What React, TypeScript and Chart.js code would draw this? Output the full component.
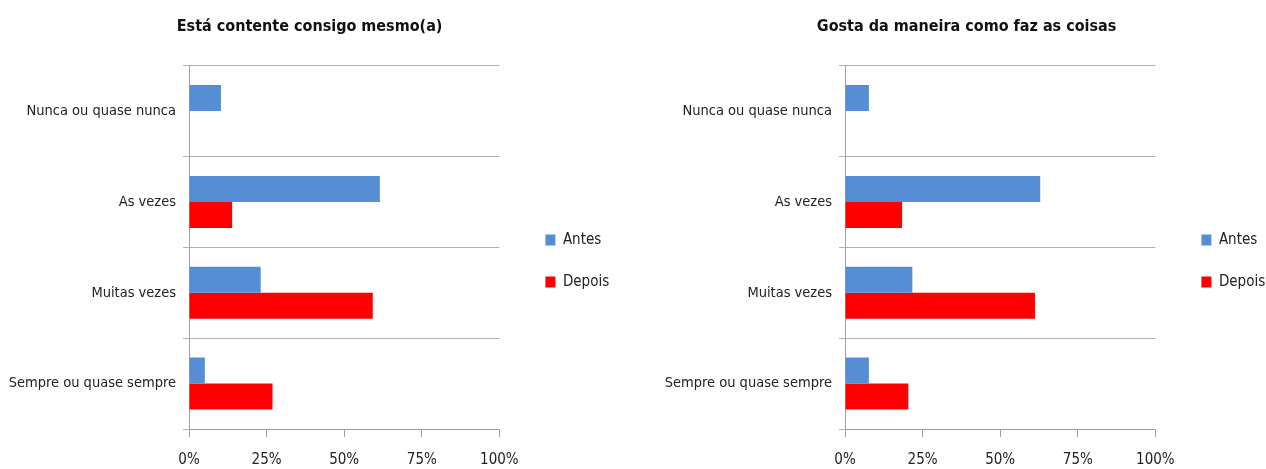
import React, { useEffect, useRef } from 'react';
import { Chart, registerables } from 'chart.js';

Chart.register(...registerables);

const categories = ['Nunca ou quase nunca', 'As vezes', 'Muitas vezes', 'Sempre ou quase sempre'];
const seriesNames = ['Antes', 'Depois'];
const xTicks = [0, 25, 50, 75, 100];

const leftTitle = 'Está contente consigo mesmo(a)';
const leftAntes = [10.3, 61.5, 23.1, 5.1];
const leftDepois = [0, 13.9, 59.2, 26.9];

const rightTitle = 'Gosta da maneira como faz as coisas';
const rightAntes = [7.7, 62.9, 21.7, 7.7];
const rightDepois = [0, 18.4, 61.2, 20.4];

const FONT = '"Liberation Sans Narrow", "Arial Narrow", "DejaVu Sans Condensed", sans-serif';
const TEXT = '#222222';

type PanelProps = {
  title: string;
  antes: number[];
  depois: number[];
  width: number;
  height: number;
  yAxisWidth: number;
  padRight: number;
};

function Panel({ title, antes, depois, width, height, yAxisWidth, padRight }: PanelProps) {
  const ref = useRef<HTMLCanvasElement | null>(null);
  useEffect(() => {
    if (!ref.current) return;
    const chart = new Chart(ref.current, {
      type: 'bar',
      data: {
        labels: categories,
        datasets: [
          { label: seriesNames[0], data: antes, backgroundColor: '#558ED5', borderWidth: 0 },
          { label: seriesNames[1], data: depois, backgroundColor: '#FF0000', borderWidth: 0 },
        ],
      },
      options: {
        indexAxis: 'y',
        responsive: false,
        animation: false,
        datasets: { bar: { categoryPercentage: 0.573, barPercentage: 1 } },
        layout: { padding: { left: 0, right: padRight, top: 0, bottom: 0 } },
        plugins: {
          title: {
            display: true,
            text: title,
            color: '#111111',
            font: { family: FONT, size: 16, weight: 'bold' },
            padding: { top: 17, bottom: 29.5 },
          },
          legend: {
            position: 'right',
            align: 'start',
            title: { display: true, text: '', font: { size: 10 }, padding: { top: 0, bottom: 193.5 } },
            labels: {
              boxWidth: 10,
              boxHeight: 11,
              padding: 27,
              color: TEXT,
              font: { family: FONT, size: 15 },
            },
          },
          tooltip: { enabled: false },
        },
        scales: {
          x: {
            type: 'linear',
            min: 0,
            max: 100,
            position: 'bottom',
            afterBuildTicks: (s: any) => {
              s.ticks = xTicks.map((v) => ({ value: v }));
            },
            afterFit: (s: any) => {
              s.height = 40;
            },
            ticks: {
              callback: (v: any) => v + '%',
              padding: 14,
              maxRotation: 0,
              color: TEXT,
              font: { family: FONT, size: 15 },
            },
            grid: { display: true, drawOnChartArea: false, drawTicks: true, tickLength: 8, color: '#A0A0A0' },
            border: { display: true, color: '#A0A0A0' },
          },
          y: {
            type: 'category',
            offset: true,
            afterFit: (s: any) => {
              s.width = yAxisWidth;
            },
            ticks: { padding: 7, color: TEXT, font: { family: FONT, size: 14.5 } },
            grid: { offset: true, color: '#B0B0B0', tickLength: 6, drawTicks: true },
            border: { display: true, color: '#A0A0A0' },
          },
          spacer: {
            type: 'linear',
            position: 'right',
            display: true,
            afterFit: (s: any) => {
              s.width = 19;
            },
            grid: { display: false },
            border: { display: false },
            ticks: { display: false },
          },
        },
      } as any,
    });
    return () => chart.destroy();
  }, [title, antes, depois, width, height, yAxisWidth, padRight]);
  return <canvas ref={ref} width={width} height={height} style={{ display: 'block', width, height }} />;
}

export default function App() {
  return (
    <div
      style={{
        position: 'fixed',
        left: 0,
        top: 0,
        width: 1266,
        height: 469,
        overflow: 'hidden',
        background: '#ffffff',
      }}
    >
      <div style={{ position: 'absolute', left: 0, top: 0 }}>
        <Panel title={leftTitle} antes={leftAntes} depois={leftDepois} width={626} height={469} yAxisWidth={189} padRight={6.8} />
      </div>
      <div style={{ position: 'absolute', left: 658, top: 0 }}>
        <Panel title={rightTitle} antes={rightAntes} depois={rightDepois} width={623} height={469} yAxisWidth={187} padRight={5.8} />
      </div>
    </div>
  );
}
